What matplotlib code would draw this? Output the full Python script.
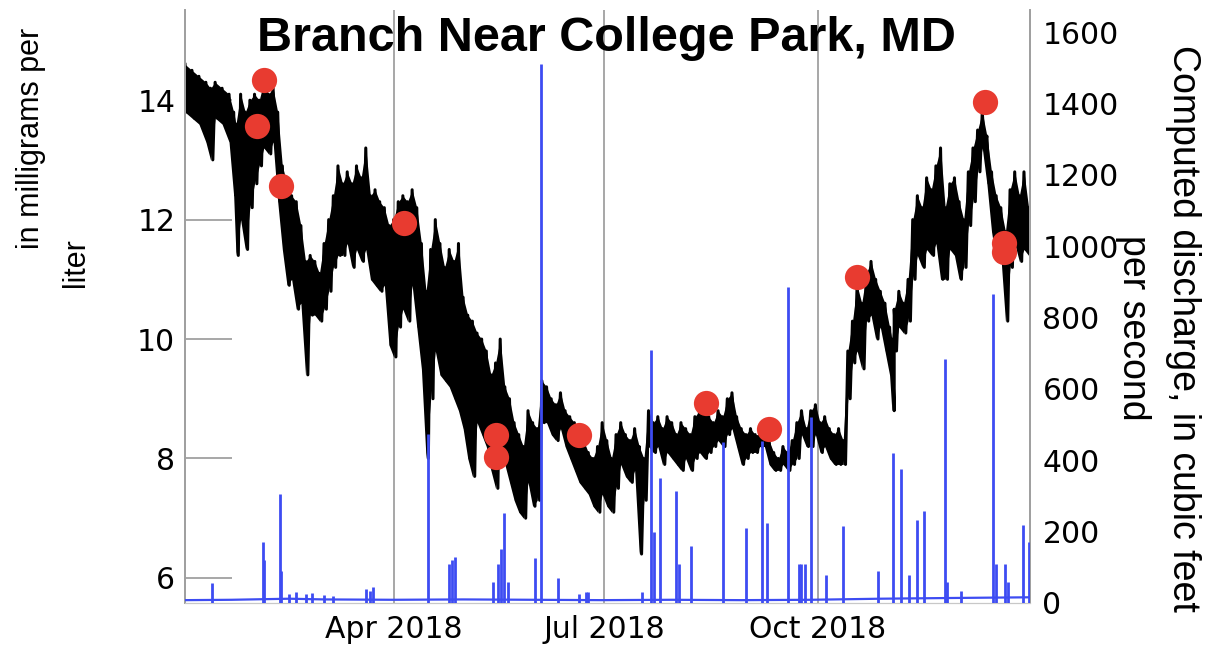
import numpy as np
import pandas as pd
import matplotlib
matplotlib.use("Agg")
import matplotlib.pyplot as plt

# ---------------- data ----------------
# dissolved oxygen: day of year 2018, daily high / low envelope (mg/L)
do_days = [0, 3, 6, 9, 11, 13, 16, 19, 21, 22, 24, 26, 28, 30, 32, 34, 36, 38, 40, 42,
           44, 46, 48, 50, 52, 54, 56, 58, 60, 62, 64, 66, 68, 70, 72, 74, 76, 78, 80, 82,
           84, 86, 88, 90, 92, 94, 96, 98, 100, 102, 104, 106, 108, 110, 112, 114, 116, 118, 120, 122,
           124, 126, 128, 130, 132, 134, 136, 138, 140, 142, 144, 146, 148, 150, 152, 154, 156, 158, 160, 162,
           164, 166, 168, 170, 172, 174, 176, 178, 180, 182, 184, 186, 188, 190, 192, 194, 196, 198, 200, 202,
           204, 206, 208, 210, 212, 214, 216, 218, 220, 222, 224, 226, 228, 230, 232, 234, 236, 238, 240, 242,
           244, 246, 248, 250, 252, 254, 256, 258, 260, 262, 264, 266, 268, 270, 272, 274, 276, 278, 280, 282,
           284, 286, 288, 290, 292, 294, 296, 298, 300, 302, 304, 305, 306, 308, 310, 312, 314, 316, 318, 320,
           322, 324, 326, 328, 330, 332, 334, 336, 338, 340, 342, 344, 346, 348, 350, 352, 354, 356, 358, 360,
           362, 364]
do_high = [14.6, 14.5, 14.4, 14.3, 14.2, 14.3, 14.2, 14.1, 13.8, 13.6, 14.1, 13.8, 14.0, 14.1, 14.0, 14.3, 14.1, 14.2, 13.8, 12.9,
           12.6, 12.4, 12.3, 11.9, 11.3, 11.4, 11.3, 11.1, 11.6, 12.0, 12.4, 12.9, 12.6, 12.8, 12.6, 12.9, 12.7, 13.2, 12.4, 12.5,
           12.3, 12.2, 11.9, 12.0, 12.3, 12.4, 12.3, 12.5, 12.2, 11.6, 10.8, 11.5, 12.0, 11.6, 11.2, 11.5, 11.3, 11.6, 10.7, 10.4,
           10.3, 10.1, 10.0, 9.8, 9.4, 9.6, 10.0, 9.2, 9.0, 8.6, 8.4, 8.2, 8.8, 8.6, 8.5, 9.3, 9.2, 9.0, 8.9, 9.1,
           8.8, 8.7, 8.6, 8.5, 8.3, 8.1, 8.0, 8.2, 8.6, 8.3, 8.0, 8.4, 8.6, 8.4, 8.3, 8.5, 8.2, 8.0, 8.8, 8.6,
           8.7, 8.5, 8.7, 8.6, 8.4, 8.6, 8.5, 8.4, 8.7, 8.8, 8.8, 8.7, 8.6, 8.8, 8.7, 9.0, 9.1, 8.7, 8.5, 8.4,
           8.5, 8.4, 8.4, 8.5, 8.3, 8.1, 8.0, 8.2, 8.1, 8.3, 8.6, 8.8, 8.5, 8.8, 8.9, 8.6, 8.7, 8.5, 8.4, 8.5,
           8.3, 9.8, 10.3, 10.9, 10.6, 11.1, 11.3, 11.0, 10.8, 10.6, 10.2, 10.0, 10.5, 10.8, 10.6, 11.0, 12.0, 12.4, 12.2, 12.7,
           12.5, 12.9, 13.2, 12.2, 12.6, 12.7, 12.3, 12.0, 12.8, 13.2, 13.5, 13.8, 13.4, 12.8, 12.4, 12.2, 11.8, 12.5, 12.8, 12.4,
           12.8, 12.2]
do_low = [13.8, 13.7, 13.6, 13.3, 13.0, 13.7, 13.6, 13.3, 12.4, 11.4, 12.0, 11.5, 12.2, 12.6, 12.9, 13.2, 13.1, 13.3, 12.3, 11.5,
          10.9, 11.0, 10.5, 10.6, 9.4, 10.4, 10.4, 10.3, 10.5, 10.8, 11.2, 11.4, 11.4, 11.6, 11.2, 11.5, 11.3, 11.5, 11.0, 10.9,
          10.8, 10.9, 9.9, 9.7, 10.2, 10.5, 10.3, 10.9, 10.2, 9.5, 8.0, 9.0, 9.8, 9.4, 9.3, 9.2, 9.0, 8.8, 8.5, 8.0,
          7.7, 8.6, 8.4, 8.2, 7.8, 7.5, 8.0, 7.9, 7.6, 7.3, 7.1, 7.0, 7.6, 7.2, 7.3, 8.6, 8.6, 8.4, 8.3, 8.5,
          8.2, 8.0, 7.8, 7.6, 7.5, 7.4, 7.2, 7.1, 7.4, 7.2, 7.1, 7.5, 7.9, 7.7, 7.6, 7.8, 6.4, 7.3, 8.2, 8.1,
          8.2, 7.9, 8.1, 8.0, 7.9, 7.8, 8.0, 7.8, 8.0, 8.1, 8.0, 8.1, 8.2, 8.3, 8.2, 8.4, 8.5, 8.2, 7.9, 8.0,
          8.1, 8.1, 8.2, 8.2, 7.9, 7.8, 7.8, 7.9, 7.8, 7.9, 8.0, 8.4, 8.2, 8.2, 8.4, 8.1, 8.2, 8.0, 7.9, 7.9,
          7.9, 9.0, 9.6, 9.8, 9.5, 10.3, 10.4, 10.0, 10.2, 9.8, 9.4, 8.8, 9.8, 10.2, 10.1, 10.3, 11.0, 11.4, 11.2, 11.5,
          11.4, 11.6, 11.0, 11.0, 11.5, 11.4, 11.0, 11.2, 11.9, 12.3, 12.8, 13.2, 12.6, 11.8, 11.3, 11.4, 10.3, 11.2, 11.6, 11.3,
          11.5, 11.4]

# discrete samples (day of year, mg/L)
sample_days = [31, 34, 41.4, 94.4, 134, 134, 170, 224.6, 252, 290, 345, 353.5, 353.5]
sample_do = [13.56, 14.33, 12.56, 11.94, 8.4, 8.03, 8.4, 8.93, 8.5, 11.04, 13.97, 11.6, 11.45]

# discharge base flow (day of year, cfs)
base_days = [0, 20, 45, 60, 90, 120, 150, 180, 210, 240, 270, 300, 330, 364.6]
base_q = [8, 9, 12, 10, 9, 10, 9, 8, 9, 8, 9, 12, 14, 16]

# discharge storm peaks (day of year, cfs)
peak_days = [11.5, 33.8, 34.3, 40.8, 41.3, 45, 48, 52, 55, 60, 64, 78, 80, 81,
             105, 114, 115, 116.5, 133, 135, 136.5, 137.5, 139.5, 151, 153.7, 161, 170, 173, 174,
             197, 201, 202.5, 205, 212, 213, 218.5, 232, 242, 249, 251, 260, 265, 266, 267.5, 270,
             276.6, 283.8, 299, 305.7, 309, 312.6, 315.8, 319, 327.8, 329, 335, 348.6, 350, 353.7, 355,
             361.6, 364]
peak_q = [55, 170, 120, 305, 90, 25, 30, 25, 28, 22, 20, 40, 35, 45,
          475, 110, 120, 130, 60, 110, 150, 252, 60, 125, 1510, 70, 25, 30, 30,
          30, 710, 200, 350, 315, 110, 160, 450, 210, 455, 225, 885, 110, 110, 110, 520,
          78, 215, 90, 420, 375, 78, 232, 258, 685, 60, 35, 865, 110, 110, 60,
          218, 170]

x_tick_days = [90, 181, 273]
x_tick_labels = ["Apr 2018", "Jul 2018", "Oct 2018"]
left_ticks = [6, 8, 10, 12, 14]
right_ticks = [0, 200, 400, 600, 800, 1000, 1200, 1400, 1600]

# ---------------- helpers ----------------
t0 = pd.Timestamp("2018-01-01")


def to_dates(days):
    return t0 + pd.to_timedelta(np.asarray(days, dtype=float), unit="D")


# zig-zag between daily highs and lows to mimic the diel cycle
zz_days, zz_vals = [], []
for i, d in enumerate(do_days):
    zz_days += [d, d + 1.0]
    zz_vals += [do_high[i], do_low[i]]

# ---------------- figure ----------------
fig = plt.figure(figsize=(12.05, 6.49), dpi=100)
ax = fig.add_axes([185 / 1205, 46 / 649, 845 / 1205, 593 / 649])
ax2 = ax.twinx()

black = "#000000"
blue = "#3d4cf2"
red = "#e83b30"
gray = "#a0a0a0"

ax.plot(to_dates(zz_days), zz_vals, color=black, lw=2.2, zorder=2)
ax.fill_between(to_dates(do_days), do_low, do_high, color=black, lw=0, zorder=2)

ax2.plot(to_dates(base_days), base_q, color=blue, lw=1.6, zorder=3)
ax2.vlines(to_dates(peak_days), 0, peak_q, color=blue, lw=2.0, zorder=3)
ax2.scatter(to_dates(sample_days), sample_do, s=330, color=red, zorder=5,
            transform=ax.transData, linewidths=0)

# limits
ax.set_xlim(t0, t0 + pd.Timedelta(days=364.6))
ax.set_ylim(5.58, 15.51)
ax2.set_ylim(0, 1662)

# ticks
ax.set_xticks(to_dates(x_tick_days))
ax.set_xticklabels(x_tick_labels)
ax.set_yticks(left_ticks)
ax2.set_yticks(right_ticks)
ax.tick_params(axis="x", length=0, pad=9, labelsize=21.5)
ax.tick_params(axis="y", direction="in", length=34, width=1.3, color=gray,
               labelsize=21.5, pad=7)
ax2.tick_params(axis="y", length=0, pad=9, labelsize=21.5)
for lab in ax.get_xticklabels() + ax.get_yticklabels() + ax2.get_yticklabels():
    lab.set_fontfamily("DejaVu Sans")

ax.grid(axis="x", color=gray, lw=1.3)
ax.set_axisbelow(True)

for a in (ax, ax2):
    a.spines["top"].set_visible(False)
    a.spines["left"].set_color(gray)
    a.spines["right"].set_color(gray)
    a.spines["bottom"].set_color("#c8c8c8")
    a.spines["left"].set_linewidth(1.3)
    a.spines["right"].set_linewidth(1.3)

# texts
fig.text(0.503, 0.941, "Branch Near College Park, MD", ha="center", va="center",
         fontsize=35, fontweight="bold", family="Liberation Sans")
fig.text(31 / 1205, 1 - 138 / 649, "in milligrams per", rotation=90, ha="center", va="center",
         fontsize=22, family="Liberation Sans")
fig.text(76 / 1205, 1 - 263 / 649, "liter", rotation=90, ha="center", va="center",
         fontsize=22, family="Liberation Sans")
fig.text(1183 / 1205, 1 - 328 / 649, "Computed discharge, in cubic feet", rotation=270,
         ha="center", va="center", fontsize=27, family="Liberation Sans")
fig.text(1133 / 1205, 1 - 328 / 649, "per second", rotation=270,
         ha="center", va="center", fontsize=27, family="Liberation Sans")

fig.savefig("out.png", dpi=100)
